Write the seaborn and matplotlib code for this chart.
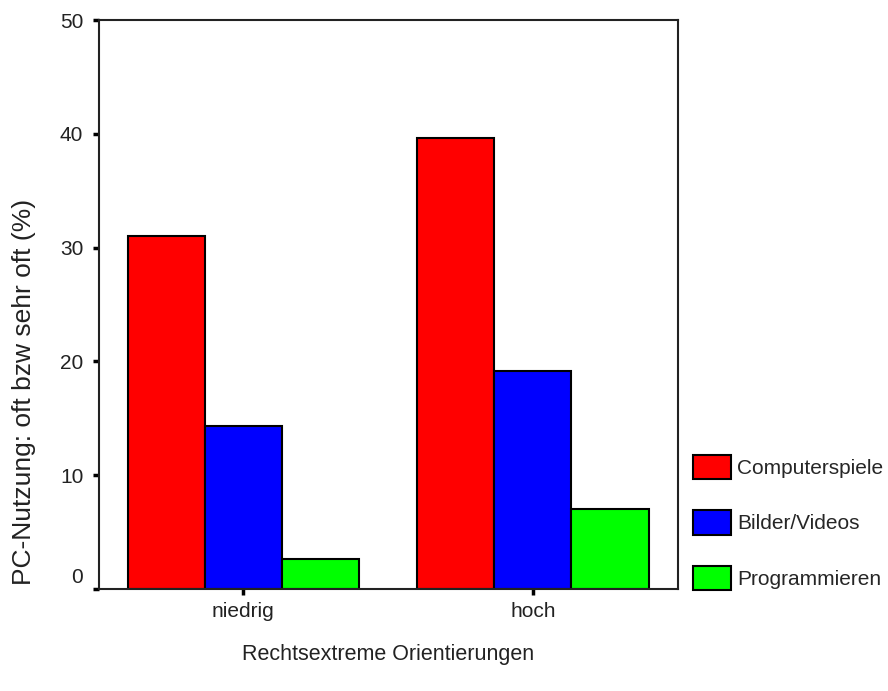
import matplotlib
matplotlib.use("Agg")
import matplotlib.pyplot as plt
import matplotlib.transforms as mtransforms
import seaborn as sns
import pandas as pd

groups = ["niedrig", "hoch"]
series = ["Computerspiele", "Bilder/Videos", "Programmieren"]
computerspiele = [31.0, 39.6]
bilder_videos = [14.3, 19.15]
programmieren = [2.6, 7.0]
colors = ["#ff0000", "#0000ff", "#00ff00"]

sns.set_style("white")
plt.rcParams["font.family"] = ["Liberation Sans", "DejaVu Sans"]

rows = []
for name, vals in zip(series, [computerspiele, bilder_videos, programmieren]):
    for g, v in zip(groups, vals):
        rows.append({"group": g, "series": name, "value": v})
df = pd.DataFrame(rows)

fig = plt.figure(figsize=(8.88, 6.91), dpi=100)
ax = fig.add_axes([0.111, 0.1476, 0.652, 0.8234])
sns.barplot(data=df, x="group", y="value", hue="series", order=groups,
            hue_order=series, palette=colors, edgecolor="black",
            linewidth=1.5, width=0.8, saturation=1, ax=ax)
ax.set_xlim(-0.5, 1.5)
ax.set_ylim(0, 50)
ax.set_yticks([0, 10, 20, 30, 40, 50])
for s in ax.spines.values():
    s.set_visible(True)
    s.set_color("#222222")
    s.set_linewidth(1.5)
ax.tick_params(axis="both", which="major", bottom=True, left=True,
               direction="out", length=4, width=2.5,
               color="black", labelsize=15, labelcolor="#222222")
ax.tick_params(axis="y", pad=7)
ax.tick_params(axis="x", pad=5)
# the "0" label sits slightly above its tick in the reference
ylabels = ax.get_yticklabels()
ylabels[0].set_transform(ylabels[0].get_transform() +
                         mtransforms.ScaledTranslation(0, 14 / 100, fig.dpi_scale_trans))

ax.set_xlabel("Rechtsextreme Orientierungen", fontsize=15.5, color="#222222", labelpad=17)
ax.set_ylabel("PC-Nutzung: oft bzw sehr oft (%)", fontsize=19, color="#222222")
ax.yaxis.set_label_coords(-0.108, 0.346)

h, l = ax.get_legend_handles_labels()
ax.get_legend().remove()
fig.legend(h, l, loc="lower left", bbox_to_anchor=(0.780, 0.146),
           frameon=False, fontsize=15, handlelength=1.85, handleheight=1.42,
           labelspacing=1.5, handletextpad=0.3, borderpad=0, borderaxespad=0)

fig.savefig("out.png", dpi=100)
